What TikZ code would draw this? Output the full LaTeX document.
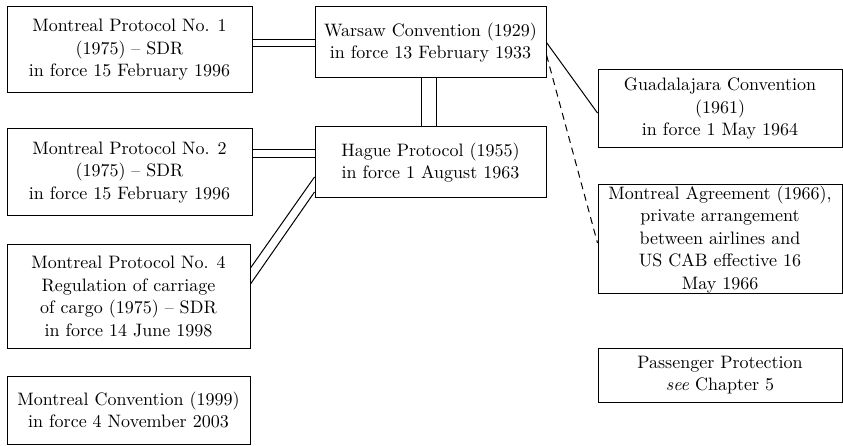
\documentclass[tikz,border=0pt]{standalone}
\usepackage{fontspec}
\setmainfont{lmroman10-regular.otf}[Ligatures=TeX, ItalicFont=lmroman10-italic.otf, BoldFont=lmroman10-bold.otf]
\begin{document}
\begin{tikzpicture}[x=1pt,y=-1pt,
  box/.style={draw, line width=1pt, align=center, inner sep=0pt,
    font=\fontsize{18}{22.5}\selectfont},
  conn/.style={line width=1pt},
  dconn/.style={line width=1pt, dash pattern=on 7pt off 5pt}]
\useasboundingbox (0,0) rectangle (843,446);
% boxes
\node[box, minimum width=245pt, minimum height=86pt] (mp1) at (129.5,50)
  {Montreal Protocol No. 1\\(1975) -- SDR\\in force 15 February 1996};
\node[box, minimum width=245pt, minimum height=87pt] (mp2) at (129.5,172.5)
  {Montreal Protocol No. 2\\(1975) -- SDR\\in force 15 February 1996};
\node[box, minimum width=243pt, minimum height=103pt] (mp4) at (128.5,296.5)
  {Montreal Protocol No. 4\\Regulation of carriage\\of cargo (1975) -- SDR\\in force 14 June 1998};
\node[box, minimum width=243pt, minimum height=68pt] (mc) at (128.5,410)
  {Montreal Convention (1999)\\in force 4 November 2003};
\node[box, minimum width=231pt, minimum height=71pt] (wc) at (430.5,42.5)
  {Warsaw Convention (1929)\\in force 13 February 1933};
\node[box, minimum width=231pt, minimum height=71pt] (hp) at (430.5,162.5)
  {Hague Protocol (1955)\\in force 1 August 1963};
\node[box, minimum width=244pt, minimum height=78pt] (gc) at (720,109)
  {Guadalajara Convention\\(1961)\\in force 1 May 1964};
\node[box, minimum width=244pt, minimum height=109pt] (ma) at (720,239.5)
  {Montreal Agreement (1966),\\private arrangement\\between airlines and\\US CAB effective 16\\May 1966};
\node[box, minimum width=244pt, minimum height=54pt] (pp) at (720,375)
  {Passenger Protection\\\textit{see} Chapter 5};
% helper coordinates
\coordinate (ya) at (0,40);
\coordinate (yb) at (0,47);
\coordinate (yc) at (0,150);
\coordinate (yd) at (0,158);
\coordinate (xa) at (421,0);
\coordinate (xb) at (436,0);
\coordinate (da1) at (0,268);
\coordinate (da2) at (0,177);
\coordinate (db1) at (0,284);
\coordinate (db2) at (0,192);
\coordinate (g1) at (0,113);
\coordinate (w1) at (0,55);
\coordinate (m1) at (0,243);
% connectors
\draw[conn] (mp1.east |- ya) -- (wc.west |- ya);
\draw[conn] (mp1.east |- yb) -- (wc.west |- yb);
\draw[conn] (mp2.east |- yc) -- (hp.west |- yc);
\draw[conn] (mp2.east |- yd) -- (hp.west |- yd);
\draw[conn] (wc.south -| xa) -- (hp.north -| xa);
\draw[conn] (wc.south -| xb) -- (hp.north -| xb);
\draw[conn] (mp4.east |- da1) -- (hp.west |- da2);
\draw[conn] (mp4.east |- db1) -- (hp.west |- db2);
\draw[conn] (wc.east) -- (gc.west |- g1);
\draw[dconn] (wc.east |- w1) -- (ma.west |- m1);
\end{tikzpicture}
\end{document}
